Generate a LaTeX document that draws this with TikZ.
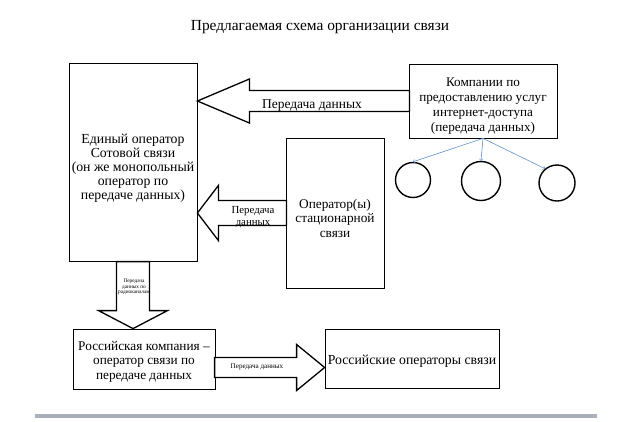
\documentclass[tikz,border=0pt]{standalone}
\usepackage{fontspec}
\setmainfont{Liberation Serif}
\usetikzlibrary{arrows,calc}

\definecolor{linkblue}{RGB}{96,146,204}
\definecolor{rulegray}{RGB}{170,176,186}

\begin{document}
\begin{tikzpicture}
	[x=1pt,y=-1pt,
	box/.style={draw,line width=0.8pt,inner sep=0pt},
	blockarrow/.style={draw,line width=1.3pt,fill=white,line join=miter},
	ball/.style={circle,draw,line width=1.4pt,inner sep=0pt},
	lbl/.style={align=center,inner sep=0pt}]
	\useasboundingbox[fill=white] (0,0) rectangle (634,421);
	\node[font=\fontsize{15.4}{17}\selectfont] (title) at (320,27) {Предлагаемая схема организации связи};

	\node[box,minimum width=128,minimum height=198,label={[lbl,yshift=-6pt,font=\fontsize{13.8}{14}\selectfont]center:Единый оператор\\Сотовой связи\\(он же монопольный\\оператор по\\передаче данных)}] (cell) at (133,162) {};
	\node[box,minimum width=148,minimum height=74,label={[lbl,yshift=-5pt,font=\fontsize{13.2}{15}\selectfont]center:Компании по\\предоставлению услуг\\интернет-доступа\\(передача данных)}] (ecom) at (483,101) {};
	\node[box,minimum width=98,minimum height=150,label={[lbl,yshift=-5pt,font=\fontsize{13.3}{14.5}\selectfont]center:Оператор(ы)\\стационарной\\связи}] (fixed) at (335,213) {};
	\node[box,minimum width=142,minimum height=60,label={[lbl,yshift=-2.5pt,font=\fontsize{13.3}{14.5}\selectfont]center:Российская компания –\\оператор связи по\\передаче данных}] (rus) at (144,359) {};
	\node[box,minimum width=174,minimum height=59,label={[lbl,yshift=-3pt,font=\fontsize{13.8}{15}\selectfont]center:Российские операторы связи}] (rusops) at (412,358.5) {};

	\node[ball,minimum size=35] (c1) at (413,180) {};
	\node[ball,minimum size=39] (c2) at (481,181) {};
	\node[ball,minimum size=36] (c3) at (557,183) {};

	\draw[->,linkblue,line width=0.6pt] (ecom.south) -- (c1.north);
	\draw[->,linkblue,line width=0.6pt] (ecom.south) -- (c2.north);
	\draw[->,linkblue,line width=0.6pt] (ecom.south) -- (c3.130);

	% block arrows
	\coordinate (t1) at (cell.east |- ecom.west);
	\draw[blockarrow] (t1) -- ++(52,-22) -- ++(0,11.5) -- ++(160,0) -- ++(0,21) -- ++(-160,0) -- ++(0,11.5) -- cycle;
	\coordinate (t2) at (cell.east |- fixed.west);
	\draw[blockarrow] (t2) -- ++(21,-27.5) -- ++(0,15) -- ++(68,0) -- ++(0,25) -- ++(-68,0) -- ++(0,15) -- cycle;
	\coordinate (t3) at (cell.south |- rus.north);
	\draw[blockarrow] (t3) -- ++(-34.5,-18) -- ++(18,0) -- ++(0,-49) -- ++(33,0) -- ++(0,49) -- ++(18,0) -- cycle;
	\coordinate (t4) at ($(rusops.west)+(0,9)$);
	\draw[blockarrow] (t4) -- ++(-28,-23) -- ++(0,13) -- ++(-82,0) -- ++(0,20) -- ++(82,0) -- ++(0,13) -- cycle;

	\node[lbl,font=\fontsize{13.5}{15}\selectfont] (l1) at (312,106) {Передача данных};
	\node[lbl,font=\fontsize{10.8}{11.5}\selectfont] (l2) at (253,217) {Передача\\данных};
	\node[lbl,font=\fontsize{5.3}{5.7}\selectfont] (l3) at (134,287) {Передача\\данных по\\радиоканалам};
	\node[lbl,font=\fontsize{7.1}{8}\selectfont] (l4) at (257,367) {Передача данных};

	\draw[rulegray,line width=4pt] (35,416) -- (597,416);
\end{tikzpicture}
\end{document}
